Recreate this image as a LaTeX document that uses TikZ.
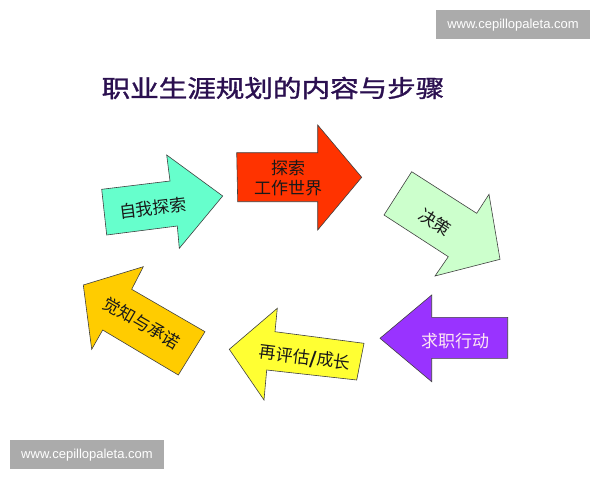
\documentclass[tikz,border=0pt]{standalone}
\usepackage{fontspec}
\setmainfont{Liberation Sans}
\newfontfamily\cjk{Noto Sans CJK SC}
\newfontfamily\cjkheavy[FakeBold=1.2]{Noto Sans CJK SC}
\usepackage{tikz}
\usetikzlibrary{positioning}
\usepackage{xcolor}
\definecolor{titlecolor}{RGB}{43, 16, 80}
\definecolor{tealcolor}{RGB}{102, 255, 204}
\definecolor{redcolor}{RGB}{255, 51, 0}
\definecolor{greencolor}{RGB}{204, 255, 204}
\definecolor{purplecolor}{RGB}{153, 51, 255}
\definecolor{yellowcolor}{RGB}{255, 255, 51}
\definecolor{goldcolor}{RGB}{255, 204, 0}

\begin{document}
\begin{tikzpicture}[
    x=1pt, y=-1pt,
    arrowshape/.style={draw=black!75, line width=0.6pt, line join=miter},
    steplabel/.style={font=\cjk\fontsize{17}{20}\selectfont, align=center, text=black!90},
    watermark/.style={fill=black!33, text=white, font=\fontsize{13}{15}\selectfont, minimum width=154pt, minimum height=29.5pt, inner sep=0pt}
]
    \useasboundingbox (0,0) rectangle (600,480);

    % Title
    \node[font=\cjkheavy\fontsize{24}{26}\selectfont, text=titlecolor, xscale=1.19] (title) at (273,88) {职业生涯规划的内容与步骤};

    % Arrows
    \draw[arrowshape, fill=tealcolor] (101.7,189.3) -- (170,181) -- (166.7,155) -- (222.7,196) -- (179.3,248.3) -- (177.3,226) -- (106.7,235) -- cycle;
    \draw[arrowshape, fill=redcolor] (236.7,152.7) -- (317.7,152.7) -- (317.7,125) -- (361.7,177.3) -- (317.7,230) -- (317.7,201.7) -- (237.7,201.7) -- cycle;
    \draw[arrowshape, fill=greencolor] (411.7,171.7) -- (476.7,213.3) -- (489,194.3) -- (500,259.3) -- (435,276) -- (448.3,256.7) -- (384,215) -- cycle;
    \draw[arrowshape, fill=purplecolor] (380,338.3) -- (431.7,295) -- (431.7,317.3) -- (507.7,317.3) -- (507.7,358.3) -- (431.7,358.3) -- (431.7,381.7) -- cycle;
    \draw[arrowshape, fill=yellowcolor] (229.3,349.3) -- (277.3,308.3) -- (275,331.7) -- (364,343.3) -- (356.7,380) -- (266.7,370) -- (264,400) -- cycle;
    \draw[arrowshape, fill=goldcolor] (83.3,285) -- (143.3,266.7) -- (131.7,289.3) -- (205,331.7) -- (178.3,375) -- (102.7,330) -- (91.7,349.3) -- cycle;

    % Labels
    \node[steplabel, rotate=7] (self) at (153,208) {自我探索};
    \node[steplabel] (world) at (288,178) {探索\\工作世界};
    \node[steplabel, rotate=-33] (decide) at (435,222) {决策};
    \node[steplabel, text=white!90!magenta] (action) at (455,341) {求职行动};
    \node[steplabel, rotate=-7] (review) at (305,358) {再评估\textbf{/}成长};
    \node[steplabel, rotate=-30] (commit) at (142,323) {觉知与承诺};

    % Watermarks
    \node[watermark] (wmtop) at (513,24.7) {www.cepillopaleta.com};
    \node[watermark] (wmbottom) at (87,454.7) {www.cepillopaleta.com};
\end{tikzpicture}
\end{document}
